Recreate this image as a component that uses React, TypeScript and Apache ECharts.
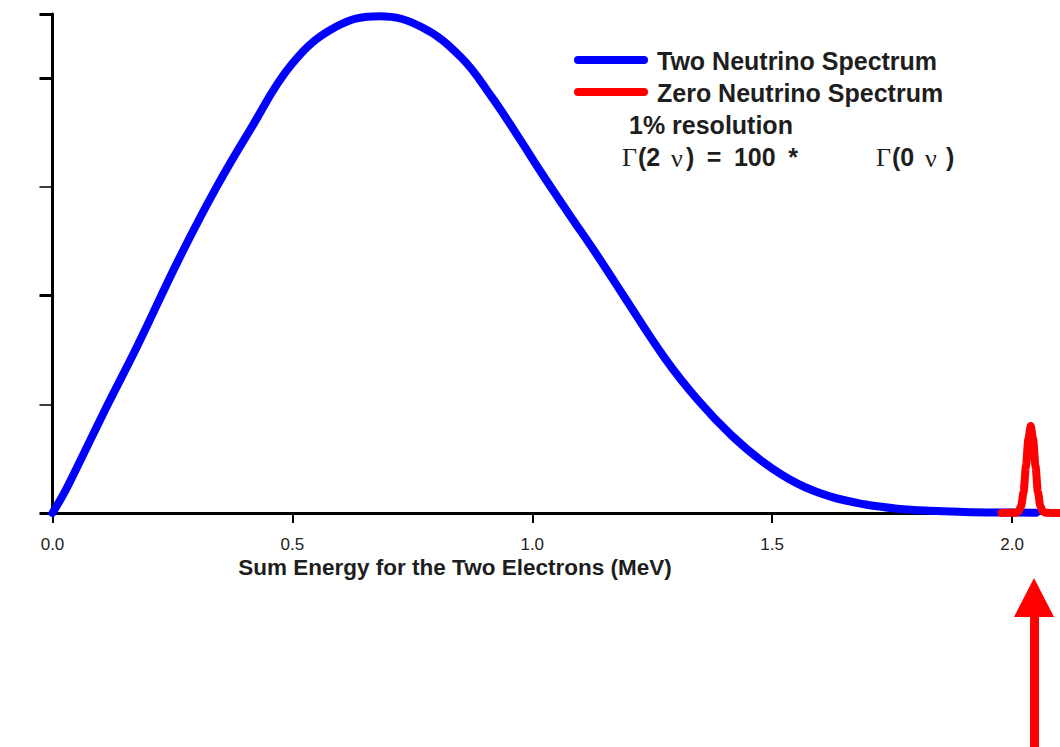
import React, { useEffect, useRef } from "react";
import * as echarts from "echarts";

// Two-neutrino sum-energy spectrum
const blueX = [0, 0.025, 0.05, 0.112, 0.175, 0.264, 0.341, 0.41, 0.499, 0.59, 0.682, 0.769, 0.852, 0.915, 0.971, 1.019, 1.075, 1.137, 1.193, 1.277, 1.345, 1.414, 1.484, 1.553, 1.622, 1.692, 1.761, 1.83, 1.9, 1.97, 2.05];
const blueY = [0, 0.19, 0.41, 0.97, 1.52, 2.34, 2.99, 3.51, 4.13, 4.47, 4.57, 4.47, 4.19, 3.83, 3.46, 3.13, 2.76, 2.36, 1.98, 1.42, 1.04, 0.72, 0.46, 0.27, 0.15, 0.08, 0.04, 0.02, 0.01, 0.005, 0.003];

// Zero-neutrino peak
const redX = [1.978, 2.0, 2.009, 2.014, 2.019, 2.024, 2.029, 2.034, 2.039, 2.044, 2.049, 2.054, 2.059, 2.064, 2.069, 2.08, 2.1];
const redY = [0, 0.002, 0.003, 0.015, 0.064, 0.19, 0.43, 0.68, 0.8, 0.68, 0.43, 0.19, 0.064, 0.015, 0.003, 0.001, 0];

const xTicks = [0, 0.5, 1.0, 1.5, 2.0];
const seriesNames = ["Two Neutrino Spectrum", "Zero Neutrino Spectrum"];
const xAxisTitle = "Sum Energy for the Two Electrons (MeV)";
const noteLine = "1% resolution";

const SANS = '"Liberation Sans", Arial, Helvetica, sans-serif';
const SERIF = '"Liberation Serif", "Times New Roman", serif';

export default function App() {
  const ref = useRef<HTMLDivElement>(null);

  useEffect(() => {
    if (!ref.current) return;
    const chart = echarts.init(ref.current, undefined, { renderer: "svg" });
    const blueData = blueX.map((x, i) => [x, blueY[i]]);
    const redData = redX.map((x, i) => [x, redY[i]]);
    const textColor = "#1e1e1e";
    const boldFont = `bold 25px ${SANS}`;
    const serifFont = `26px ${SERIF}`;
    const t = (x: number, y: number, text: string, font: string) => ({
      type: "text",
      x,
      y,
      style: { text, font, fill: textColor, textVerticalAlign: "middle" },
    });

    chart.setOption({
      animation: false,
      backgroundColor: "#ffffff",
      grid: { left: 45, top: 14, right: 0, bottom: 234, containLabel: false },
      xAxis: {
        type: "value",
        min: -0.0156,
        max: 2.1,
        axisLine: { show: true, onZero: false, lineStyle: { color: "#000", width: 3 } },
        axisTick: { show: true, customValues: xTicks, length: 10, lineStyle: { color: "#000", width: 2 } },
        axisLabel: {
          show: true,
          customValues: xTicks,
          formatter: (v: number) => v.toFixed(1),
          fontFamily: SANS,
          fontSize: 17,
          color: "#222",
          margin: 23,
        },
        splitLine: { show: false },
      },
      yAxis: {
        type: "value",
        min: 0,
        max: 4.59,
        interval: 2,
        axisLine: { show: true, lineStyle: { color: "#000", width: 3 } },
        axisTick: { show: true, length: 13, lineStyle: { color: "#000", width: 3 } },
        minorTick: { show: true, splitNumber: 2, length: 13, lineStyle: { color: "#000", width: 1.5 } },
        axisLabel: { show: false },
        splitLine: { show: false },
      },
      series: [
        {
          name: seriesNames[0],
          type: "line",
          data: blueData,
          showSymbol: false,
          smooth: 0.4,
          clip: false,
          lineStyle: { color: "#0000ff", width: 8, cap: "round", join: "round" },
          z: 3,
        },
        {
          name: seriesNames[1],
          type: "line",
          data: redData,
          showSymbol: false,
          smooth: 0.25,
          smoothMonotone: "x",
          clip: false,
          lineStyle: { color: "#ff0000", width: 8, cap: "round", join: "round" },
          z: 4,
        },
      ],
      graphic: [
        { type: "line", shape: { x1: 578, y1: 60, x2: 644, y2: 60 }, style: { stroke: "#0000ff", lineWidth: 8, lineCap: "round" } },
        { type: "line", shape: { x1: 578, y1: 92, x2: 644, y2: 92 }, style: { stroke: "#ff0000", lineWidth: 8, lineCap: "round" } },
        t(657, 61, seriesNames[0], boldFont),
        t(657, 93, seriesNames[1], boldFont),
        t(629, 125, noteLine, boldFont),
        t(622, 157, "Γ", serifFont),
        t(638, 157, "(2", boldFont),
        t(671, 158, "ν", serifFont),
        t(686, 157, ")\u2002=\u2002100\u2002*", boldFont),
        t(876, 157, "Γ", serifFont),
        t(892, 157, "(0", boldFont),
        t(925, 158, "ν", serifFont),
        t(946, 157, ")", boldFont),
        {
          type: "text",
          x: 455,
          y: 567,
          style: { text: xAxisTitle, font: `bold 22.5px ${SANS}`, fill: textColor, textAlign: "center", textVerticalAlign: "middle" },
        },
        {
          type: "polygon",
          shape: {
            points: [
              [1034, 578],
              [1054, 617],
              [1039, 617],
              [1039, 747],
              [1030, 747],
              [1030, 617],
              [1014, 617],
            ],
          },
          style: { fill: "#ff0000" },
        },
      ],
    });
    return () => chart.dispose();
  }, []);

  return (
    <div
      ref={ref}
      style={{ position: "absolute", left: 0, top: 0, width: 1060, height: 747, background: "#fff" }}
    />
  );
}
